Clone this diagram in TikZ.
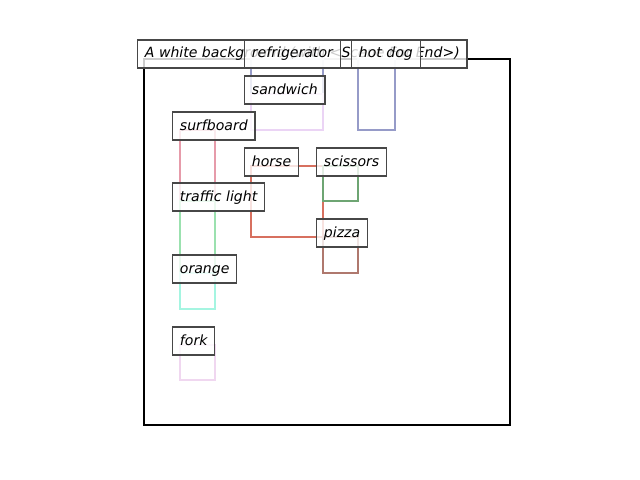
\documentclass[tikz,border=0pt]{standalone}
\usepackage{fontspec}
\setmainfont{DejaVu Sans}
\usepackage{tikz}

\definecolor{fridgecol}{RGB}{160,200,180}
\definecolor{hotdogcol}{RGB}{150,155,200}
\definecolor{sandwichcol}{RGB}{235,212,245}
\definecolor{surfcol}{RGB}{230,155,170}
\definecolor{horsecol}{RGB}{215,112,95}
\definecolor{scissorscol}{RGB}{110,165,115}
\definecolor{lightcol}{RGB}{155,225,175}
\definecolor{pizzacol}{RGB}{175,120,110}
\definecolor{orangecol}{RGB}{165,245,225}
\definecolor{forkcol}{RGB}{240,215,240}

\begin{document}
\begin{tikzpicture}[x = 0.025cm, y = -0.025cm,
        objlabel/.style = {draw = black!72, fill = white, fill opacity = 0.8, text opacity = 1,
            anchor = base west, font = \itshape, inner xsep = 5.2pt, inner ysep = 5pt,
            text height = 7.8pt, text depth = 2.1pt, line width = 0.9pt},
        objbox/.style = {line width = 1.9pt}]
        \useasboundingbox (0, 0) rectangle (640, 480);

        \draw[line width = 1.6pt]
            (144, 59) rectangle (510, 425)
        ;

        \draw[objbox]
            [fridgecol] (251, 59) rectangle (323, 94)
            [hotdogcol] (358, 59) rectangle (395, 130)
        ;
        \draw[objbox, sandwichcol] (251, 94) rectangle (323, 130);
        \draw[objbox, surfcol] (180, 130) rectangle (215, 201);
        \draw[objbox, horsecol] (251, 166) rectangle (323, 237);
        \draw[objbox, scissorscol] (323, 166) rectangle (358, 201);
        \draw[objbox, lightcol] (180, 201) rectangle (215, 273);
        \draw[objbox, pizzacol] (323, 237) rectangle (358, 273);
        \draw[objbox, orangecol] (180, 273) rectangle (215, 309);
        \draw[objbox, forkcol] (180, 345) rectangle (215, 380);

        \node[objlabel] (title) at (137, 58) {A white background (with <Scene For End>)};
        \node[objlabel] (fridge) at (244, 58) {refrigerator};
        \node[objlabel] (hotdog) at (351, 58) {hot dog};
        \node[objlabel] (sandwich) at (244, 94) {sandwich};
        \node[objlabel] (surfboard) at (172, 130) {surfboard};
        \node[objlabel] (horse) at (244, 166) {horse};
        \node[objlabel] (scissors) at (316, 166) {scissors};
        \node[objlabel] (light) at (172, 201) {traffic light};
        \node[objlabel] (pizza) at (316, 237) {pizza};
        \node[objlabel] (orange) at (172, 273) {orange};
        \node[objlabel] (fork) at (172, 345) {fork};
    \end{tikzpicture}
\end{document}
